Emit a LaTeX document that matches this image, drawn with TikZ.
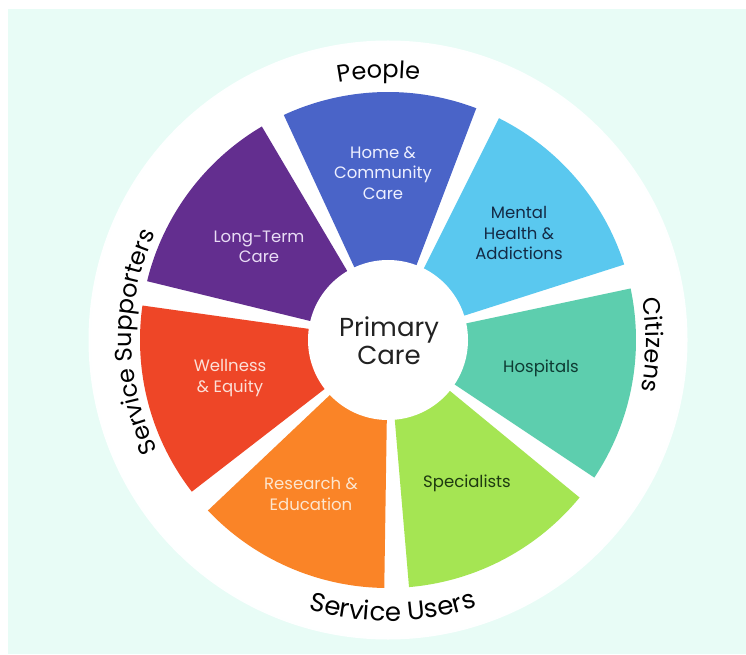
\documentclass[tikz,border=0pt]{standalone}
\usepackage{fontspec}
\setmainfont{Poppins}
\usetikzlibrary{decorations.text}
\definecolor{mint}{HTML}{E8FCF6}
\definecolor{cHome}{HTML}{4A64C8}
\definecolor{cLong}{HTML}{632E8F}
\definecolor{cWell}{HTML}{EE4627}
\definecolor{cRes}{HTML}{FA8427}
\definecolor{cSpec}{HTML}{A5E553}
\definecolor{cHosp}{HTML}{5DCEAE}
\definecolor{cMent}{HTML}{5AC8EF}
\definecolor{tHome}{HTML}{EEF0FF}
\definecolor{tLong}{HTML}{E9DDF5}
\definecolor{tWell}{HTML}{FCE0D8}
\definecolor{tRes}{HTML}{FDE6CF}
\definecolor{tSpec}{HTML}{1E3A10}
\definecolor{tHosp}{HTML}{0E3B33}
\definecolor{tMent}{HTML}{142A45}
\definecolor{tMain}{HTML}{222222}
\newcommand{\lblfont}{\fontsize{16.5}{20.5}\selectfont}
\newcommand{\outfont}{\fontsize{24}{24}\selectfont}
\tikzset{
  lbl/.style={align=center, font=\lblfont, inner sep=0pt},
  outerlbl/.style={decorate, decoration={text along path, text align=center}},
}
\begin{document}
\begin{tikzpicture}[x=1pt,y=1pt]
\useasboundingbox (0,0) rectangle (746,654);
\fill[white] (0,0) rectangle (746,654);
\fill[mint] (8,0) rectangle (746,645);
\coordinate (C) at (388,314);
\fill[white!96!mint] (C) circle[radius=299.5];
\fill[white] (C) circle[radius=297];
% wedges
\foreach \k/\col in {0/cHome,1/cLong,2/cWell,3/cRes,4/cSpec,5/cHosp,6/cMent}{
  \pgfmathsetmacro{\ca}{92+51.4286*\k}
  \pgfmathsetmacro{\aa}{\ca-22.85}
  \pgfmathsetmacro{\ab}{\ca+22.85}
  \fill[\col] (C) -- +(\aa:248) arc[start angle=\aa, end angle=\ab, radius=248] -- cycle;
}
\fill[white] (C) circle[radius=80];
% labels
\node[lbl, text=tHome] (home) at (383,481) {Home \&\\Community\\Care};
\node[lbl, text=tLong] (long) at (259,407) {Long-Term\\Care};
\node[lbl, text=tMent] (ment) at (519,421) {Mental\\Health \&\\Addictions};
\node[lbl, text=tHosp] (hosp) at (541,286) {Hospitals};
\node[lbl, text=tSpec] (spec) at (467,171) {Specialists};
\node[lbl, text=tRes] (res) at (311,160) {Research \&\\Education};
\node[lbl, text=tWell] (well) at (230,276) {Wellness\\\& Equity};
\node[align=center, font=\fontsize{26}{28}\selectfont, text=tMain, inner sep=0pt] (prim) at (389,313) {Primary\\Care};
% outer ring texts
\path[outerlbl, decoration={text={|\outfont\color{black}|People}}]
  (C) ++(122:262) arc[start angle=122, end angle=62, radius=262];
\path[outerlbl, decoration={text={|\outfont\color{black}|Citizens}}]
  (C) ++(30:258) arc[start angle=30, end angle=-32, radius=258];
\path[outerlbl, decoration={text={|\fontsize{26}{26}\selectfont\color{black}|Service Users}}]
  (C) ++(236:281) arc[start angle=236, end angle=306, radius=281];
\path[outerlbl, decoration={text={|\outfont\color{black}|Service Supporters}}]
  (C) ++(240:256) arc[start angle=240, end angle=121, radius=256];
\end{tikzpicture}
\end{document}
